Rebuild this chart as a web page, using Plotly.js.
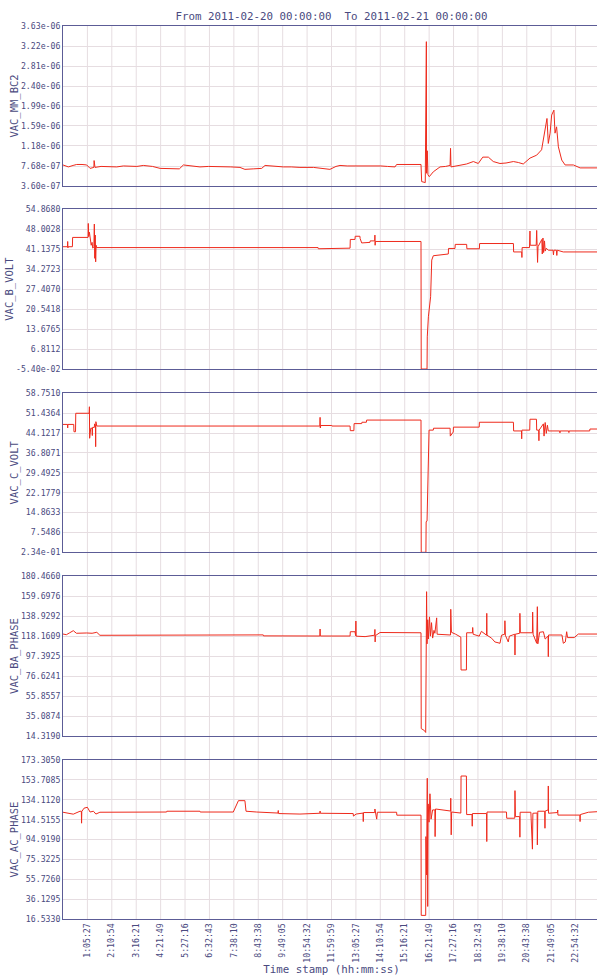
<!DOCTYPE html>
<html>
<head>
<meta charset="utf-8">
<script src="https://cdn.plot.ly/plotly-3.0.1.min.js"></script>
<style>
html,body{margin:0;padding:0;overflow:hidden;background:#fff;}
#chart{width:600px;height:976px;}
</style>
</head>
<body>
<div id="chart"></div>
<script>
// ---------- DATA ----------
const chartTitle = "From 2011-02-20 00:00:00 \u00a0To 2011-02-21 00:00:00";
const xTitle = "Time stamp (hh:mm:ss)";
const xTickLabels = ["1:05:27","2:10:54","3:16:21","4:21:49","5:27:16","6:32:43","7:38:10","8:43:38","9:49:05","10:54:32","11:59:59","13:05:27","14:10:54","15:16:21","16:21:49","17:27:16","18:32:43","19:38:10","20:43:38","21:49:05","22:54:32"];

const seriesNames = ["VAC_MM_BC2","VAC_B_VOLT","VAC_C_VOLT","VAC_BA_PHASE","VAC_AC_PHASE"];

const yTicksMM = ["3.60e-07","7.68e-07","1.18e-06","1.59e-06","1.99e-06","2.40e-06","2.81e-06","3.22e-06","3.63e-06"];
const yTicksB  = ["-5.40e-02","6.8112","13.6765","20.5418","27.4070","34.2723","41.1375","48.0028","54.8680"];
const yTicksC  = ["2.34e-01","7.5486","14.8633","22.1779","29.4925","36.8071","44.1217","51.4364","58.7510"];
const yTicksBA = ["14.3190","35.0874","55.8557","76.6241","97.3925","118.1609","138.9292","159.6976","180.4660"];
const yTicksAC = ["16.5330","36.1295","55.7260","75.3225","94.9190","114.5155","134.1120","153.7085","173.3050"];

// time in hours since 2011-02-20 00:00:00
const mmT = [0,0.12,0.24,0.45,0.61,0.85,1.06,1.21,1.30,1.38,1.39,1.40,1.43,1.7,1.9,2.15,2.40,2.7,3.0,3.3,3.59,4.0,4.34,4.7,5.08,5.2,5.38,5.8,6.12,6.5,7.0,7.5,7.91,8.13,8.5,8.88,9.03,9.4,9.85,10.2,10.59,11.2,11.6,11.93,12.2,12.38,12.7,13.0,13.3,13.57,13.9,14.2,14.5,14.84,14.91,16.00,16.03,16.19,16.24,16.25,16.28,16.31,16.37,16.55,16.85,17.1,17.30,17.32,17.34,17.7,18.04,18.34,18.56,18.76,19.01,19.23,19.53,19.8,20.13,20.35,20.57,20.87,21.17,21.39,21.54,21.63,21.69,21.77,21.84,21.94,21.99,22.06,22.14,22.29,22.44,22.81,23.11,23.6,24];
const mmV = [0.79e-6,0.77e-6,0.75e-6,0.78e-6,0.80e-6,0.80e-6,0.79e-6,0.72e-6,0.73e-6,0.74e-6,0.88e-6,0.74e-6,0.74e-6,0.76e-6,0.76e-6,0.75e-6,0.75e-6,0.77e-6,0.77e-6,0.76e-6,0.78e-6,0.76e-6,0.72e-6,0.71e-6,0.70e-6,0.71e-6,0.79e-6,0.76e-6,0.75e-6,0.76e-6,0.76e-6,0.75e-6,0.74e-6,0.70e-6,0.71e-6,0.72e-6,0.78e-6,0.76e-6,0.75e-6,0.75e-6,0.74e-6,0.74e-6,0.72e-6,0.70e-6,0.76e-6,0.78e-6,0.77e-6,0.77e-6,0.78e-6,0.78e-6,0.77e-6,0.77e-6,0.76e-6,0.75e-6,0.80e-6,0.80e-6,0.45e-6,0.43e-6,3.31e-6,0.62e-6,1.08e-6,0.59e-6,0.55e-6,0.65e-6,0.75e-6,0.76e-6,0.78e-6,1.13e-6,0.75e-6,0.78e-6,0.81e-6,0.86e-6,0.82e-6,0.95e-6,0.95e-6,0.86e-6,0.82e-6,0.83e-6,0.86e-6,0.84e-6,0.81e-6,0.93e-6,0.99e-6,1.10e-6,1.51e-6,1.74e-6,1.23e-6,1.44e-6,1.81e-6,1.91e-6,1.44e-6,1.57e-6,1.16e-6,0.89e-6,0.79e-6,0.79e-6,0.73e-6,0.73e-6,0.73e-6];

const bT = [0,0.20,0.21,0.22,0.23,0.42,0.43,1.12,1.13,1.15,1.18,1.22,1.26,1.30,1.33,1.38,1.40,1.42,1.44,1.46,1.48,1.50,11.40,11.41,12.83,12.84,13.05,13.06,13.27,13.28,13.35,13.72,13.73,13.93,13.94,13.95,13.96,16.00,16.01,16.27,16.28,16.33,16.37,16.43,16.48,16.55,17.22,17.23,17.52,17.53,18.04,18.05,18.61,18.62,20.13,20.14,20.50,20.51,20.52,20.85,20.87,20.88,21.15,21.17,21.19,21.21,21.23,21.40,21.42,21.45,21.48,21.52,21.55,21.60,21.69,21.90,21.92,21.94,22.05,22.07,22.09,22.36,24];
const bV = [42.0,42.0,43.8,41.6,42.0,42.0,45.2,45.2,50.0,45.5,47.0,44.0,42.5,43.5,41.5,42.0,49.8,38.0,46.0,36.8,42.5,41.7,41.7,41.3,41.5,44.5,44.5,45.6,45.6,44.8,43.3,43.5,44.0,44.0,46.0,42.5,43.8,43.8,-0.054,-0.054,11.0,17.9,21.3,24.8,37.4,38.9,39.5,41.4,41.4,42.8,42.8,41.3,41.3,43.1,43.1,40.2,40.2,38.3,41.7,41.7,47.4,42.5,42.5,47.6,42.0,36.6,42.0,44.5,39.5,45.0,40.0,44.0,40.5,41.5,40.8,40.8,39.2,40.8,40.8,39.0,40.8,40.2,40.2];

const cT = [0,0.20,0.21,0.22,0.48,0.49,0.56,0.57,1.17,1.18,1.19,1.24,1.30,1.31,1.32,1.40,1.41,1.45,1.46,1.47,1.51,11.48,11.49,11.50,11.52,12.01,12.02,12.83,12.84,13.00,13.01,13.35,13.36,13.56,13.57,16.00,16.01,16.22,16.23,16.27,16.35,16.36,16.55,16.56,17.30,17.31,17.44,17.45,18.60,18.61,20.13,20.14,20.49,20.50,20.51,20.86,20.87,21.16,21.17,21.26,21.27,21.28,21.47,21.50,21.55,21.60,21.65,21.69,22.20,22.21,22.22,22.60,22.61,22.62,23.54,23.55,24];
const cV = [47.3,47.3,46.0,47.3,47.3,44.6,44.6,51.4,51.4,53.8,42.2,45.9,45.9,43.2,46.2,46.2,47.5,47.0,39.1,48.3,46.7,46.7,49.9,46.0,46.9,46.9,46.7,46.7,45.0,45.0,47.6,47.6,48.1,48.1,48.9,48.9,0.234,0.234,11.5,11.7,33.6,45.2,45.2,45.9,45.9,43.0,44.5,46.3,46.3,48.1,48.1,44.9,44.9,42.0,45.2,45.2,49.2,49.2,45.2,45.2,41.3,45.2,47.5,43.0,48.0,44.0,47.0,44.9,44.9,44.2,44.9,44.9,44.3,44.9,44.9,45.6,45.6];

const baT = [0,0.15,0.30,0.46,0.60,0.80,1.06,1.30,1.51,1.65,4.0,4.5,6.0,7.61,7.62,8.95,8.96,10.59,11.48,11.49,11.50,12.83,12.84,13.05,13.08,13.09,13.10,13.5,13.93,13.94,13.95,13.96,14.17,14.91,16.00,16.01,16.15,16.21,16.22,16.23,16.25,16.27,16.30,16.33,16.38,16.42,16.47,16.52,16.58,16.62,16.70,16.72,17.32,17.33,17.36,17.55,17.78,17.79,18.03,18.04,18.30,18.31,18.33,18.6,18.7,18.93,18.94,18.95,19.16,19.30,19.53,19.60,19.74,19.75,19.77,19.90,19.95,20.19,20.20,20.21,20.41,20.42,20.44,20.98,20.99,21.01,21.17,21.20,21.22,21.30,21.47,21.55,21.68,21.69,21.70,22.30,22.36,22.45,22.51,22.55,22.85,23.03,24];
const baV = [120.2,119.5,121.5,123.7,121.0,121.3,121.3,121.0,122.0,118.9,118.9,119.2,118.9,119.0,119.5,119.3,118.3,118.0,118.16,125.4,118.16,118.16,122.6,122.6,118.5,133.7,118.0,117.5,119.0,125.0,112.0,118.5,121.8,121.5,121.5,22.0,20.0,18.0,86.3,30.0,164.2,110.0,135.0,115.0,138.0,118.0,132.0,116.0,124.0,121.0,137.0,120.0,119.2,145.9,122.0,120.0,117.0,82.9,82.9,121.5,121.5,127.0,120.0,118.0,123.0,119.0,141.7,119.0,115.8,112.0,110.6,119.0,120.0,134.0,119.0,112.0,118.0,120.0,98.4,120.0,121.0,141.7,121.5,121.5,143.0,120.0,110.6,148.6,110.0,122.0,122.6,115.0,118.0,96.7,119.2,119.2,110.6,112.0,122.6,116.5,116.5,120.2,120.2];

const acT = [0,0.30,0.46,0.76,0.82,0.83,0.84,0.94,1.09,1.21,1.36,1.47,1.65,4.63,4.64,6.12,6.13,7.61,7.84,8.13,8.18,8.66,9.40,9.61,9.62,9.63,10.59,11.48,11.49,11.50,12.97,12.98,13.10,13.41,13.42,13.43,13.93,13.94,14.02,14.05,14.91,14.92,16.00,16.01,16.21,16.22,16.25,16.28,16.30,16.32,16.36,16.40,16.45,16.52,16.62,16.63,16.65,17.32,17.33,17.35,17.37,17.78,17.79,18.03,18.04,18.28,18.29,18.30,18.93,18.94,18.95,19.82,19.83,20.19,20.20,20.22,20.41,20.42,20.43,20.91,20.92,20.98,21.00,21.19,21.20,21.22,21.53,21.54,21.55,21.68,21.69,21.70,22.10,22.11,22.12,23.10,23.11,23.12,23.48,24];
const acV = [121.8,120.5,119.9,122.8,122.8,111.0,122.5,125.8,126.7,122.0,122.8,120.0,121.8,122.0,122.8,122.8,122.0,122.0,133.2,133.2,122.8,122.0,120.8,121.0,123.5,120.5,120.0,120.8,123.0,120.8,120.5,118.0,120.0,121.0,112.6,121.5,121.5,125.0,115.0,121.8,121.8,118.9,118.9,20.1,20.1,97.8,60.0,155.3,28.9,130.0,112.0,140.0,115.0,124.1,124.1,97.8,125.0,123.0,135.6,99.5,122.0,121.0,157.5,157.5,119.5,119.5,108.0,120.5,120.5,92.9,122.0,122.0,115.9,115.9,143.1,117.5,117.5,97.2,121.8,121.8,112.6,85.4,120.8,121.0,89.6,122.8,122.8,106.0,123.0,124.0,147.7,120.8,121.5,124.0,119.0,119.0,112.6,119.5,121.8,122.5];

// ---------- STYLE / LAYOUT ----------
const lineColor = "#ee2a1c";
const axisColor = "#5c5c96";
const gridColor = "#e6dde1";
const textColor = "#4a4a80";
const mono = "DejaVu Sans Mono, monospace";

const W = 600, H = 976, mT = 26, mB = 57;
const plotH = H - mT - mB;
const topPx = [26, 209.3, 393.3, 576, 760];
const botPx = [186, 369, 552.3, 736, 919];
function dom(i){
  const y0 = (H - mB - botPx[i]) / plotH;
  const y1 = (H - mB - topPx[i]) / plotH;
  return [Math.max(0, y0), Math.min(1, y1)];
}

function toHours(s){ const p = s.split(":").map(Number); return p[0] + p[1]/60 + p[2]/3600; }
const xTickVals = xTickLabels.map(toHours);

const allT = [mmT, bT, cT, baT, acT];
const allV = [mmV, bV, cV, baV, acV];
const allTicks = [yTicksMM, yTicksB, yTicksC, yTicksBA, yTicksAC];

const traces = [];
const layout = {
  width: W, height: H,
  margin: {l: 63, r: 0, t: mT, b: mB},
  paper_bgcolor: "#ffffff", plot_bgcolor: "#ffffff",
  showlegend: false,
  title: {text: chartTitle, font: {family: mono, size: 10.8, color: textColor},
          x: 0.5, xref: "paper", y: 1 - 16.5/H, yref: "container", yanchor: "middle"},
  shapes: []
};

for (let i = 0; i < 5; i++) {
  const k = i + 1;
  const xa = "x" + k, ya = "y" + k;
  traces.push({x: allT[i], y: allV[i], type: "scatter", mode: "lines",
    xaxis: xa, yaxis: ya, line: {color: lineColor, width: 1}, hoverinfo: "skip"});
  const tv = allTicks[i].map(Number);
  layout["yaxis" + k] = {
    domain: dom(i), anchor: xa, range: [tv[0], tv[tv.length-1]],
    tickmode: "array", tickvals: tv, ticktext: allTicks[i],
    showline: true, linecolor: axisColor, linewidth: 1, mirror: true,
    showgrid: true, gridcolor: gridColor, gridwidth: 1, zeroline: false,
    ticks: "", tickfont: {family: mono, size: 8.2, color: textColor},
    title: {text: seriesNames[i], font: {family: mono, size: 10.5, color: textColor}, standoff: 0}
  };
  const xa_obj = {
    domain: [0, 1], anchor: ya, range: [0, 24],
    showline: true, linecolor: axisColor, linewidth: 1, mirror: true,
    showgrid: false, zeroline: false, ticks: "",
    tickmode: "array", tickvals: xTickVals, ticktext: xTickLabels,
    showticklabels: k === 5, tickangle: -90,
    tickfont: {family: mono, size: 8.2, color: textColor},
    title: k === 5 ? {text: xTitle, font: {family: mono, size: 10.8, color: textColor}, standoff: 4} : {text: ""}
  };
  if (k > 1) xa_obj.matches = "x";
  layout["xaxis" + k] = xa_obj;
}

// vertical grid lines spanning all panels, at the x tick positions
xTickVals.forEach(v => {
  layout.shapes.push({type: "line", xref: "x", yref: "paper", x0: v, x1: v, y0: 0, y1: 1,
    line: {color: gridColor, width: 1}, layer: "below"});
});

Plotly.newPlot("chart", traces, layout, {staticPlot: true, displayModeBar: false});
</script>
</body>
</html>
